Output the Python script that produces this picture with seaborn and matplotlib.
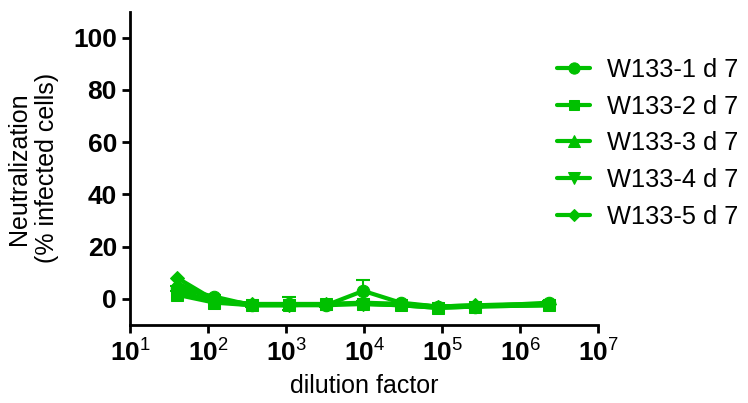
import numpy as np
import pandas as pd
import matplotlib
matplotlib.use("Agg")
import matplotlib.pyplot as plt
import seaborn as sns

# dilution series (3-fold from 1:40, last point 40*3^10)
dilution = [40, 120, 360, 1080, 3240, 9720, 29160, 87480, 262440, 2361960]
series_names = ["W133-1 d 7", "W133-2 d 7", "W133-3 d 7", "W133-4 d 7", "W133-5 d 7"]

w133_1 = [4.0, 0.8, -2.5, -2.0, -2.5, 3.0, -1.5, -3.0, -3.0, -1.5]
w133_2 = [1.5, -1.5, -2.5, -2.5, -2.0, -2.0, -2.5, -3.5, -3.0, -2.5]
w133_3 = [6.0, -0.5, -2.0, -2.0, -2.0, -1.5, -2.0, -3.0, -2.5, -2.0]
w133_4 = [3.0, -1.0, -2.5, -2.5, -2.5, -2.0, -2.5, -3.5, -3.0, -2.5]
w133_5 = [8.0, -0.5, -2.0, -2.5, -2.0, -2.0, -2.0, -3.0, -2.5, -2.0]
w133_1_err = [1.0, 0.8, 0.5, 2.5, 0.5, 4.0, 0.5, 0.5, 0.5, 0.5]

values = [w133_1, w133_2, w133_3, w133_4, w133_5]
markers = ["o", "s", "^", "v", "D"]
msizes = [9, 8, 9, 9, 7]
green = "#00c000"

rows = []
for name, vals in zip(series_names, values):
    for d, v in zip(dilution, vals):
        rows.append({"dilution": d, "value": v, "series": name})
df = pd.DataFrame(rows)

sns.set_style("ticks")
plt.rcParams["font.family"] = ["Liberation Sans", "DejaVu Sans"]
plt.rcParams["mathtext.fontset"] = "custom"
plt.rcParams["mathtext.rm"] = "Liberation Sans"
plt.rcParams["mathtext.bf"] = "Liberation Sans:bold"
for k in ["text.color", "axes.labelcolor", "xtick.color", "ytick.color", "axes.edgecolor"]:
    plt.rcParams[k] = "black"

fig = plt.figure(figsize=(7.48, 4.03), dpi=100)
ax = fig.add_axes([0.174, 0.194, 0.626, 0.777])

for name, m, ms in zip(series_names, markers, msizes):
    sub = df[df["series"] == name]
    sns.lineplot(data=sub, x="dilution", y="value", ax=ax, color=green,
                 marker=m, markersize=ms, markeredgecolor=green, linewidth=3,
                 label=name)

ax.errorbar(dilution, w133_1, yerr=w133_1_err, fmt="none", ecolor=green,
            elinewidth=1.5, capsize=5, capthick=1.5)

ax.set_xscale("log")
ax.set_xlim(10, 1e7)
ax.set_ylim(-10, 110)
ax.set_yticks([0, 20, 40, 60, 80, 100])
ax.set_xticks([10.0 ** k for k in range(1, 8)])
ax.minorticks_off()
ax.set_xticklabels([f"$\\mathbf{{10}}^{{{k}}}$" for k in range(1, 8)])
ax.tick_params(axis="both", labelsize=19, width=2, length=6, direction="out")
for lab in ax.get_yticklabels() + ax.get_xticklabels():
    lab.set_fontweight("bold")
ax.set_xlabel("dilution factor", fontsize=18, labelpad=6)
ax.set_ylabel("Neutralization\n(% infected cells)", fontsize=18, labelpad=10)

sns.despine(ax=ax)
ax.spines["left"].set_linewidth(2)
ax.spines["bottom"].set_linewidth(2)

ax.legend(loc="upper left", bbox_to_anchor=(0.89, 0.885), borderaxespad=0,
          frameon=False, fontsize=18.3, handlelength=1.3, labelspacing=0.5,
          handletextpad=0.65, markerscale=0.9)

fig.savefig("out.png", dpi=100)
